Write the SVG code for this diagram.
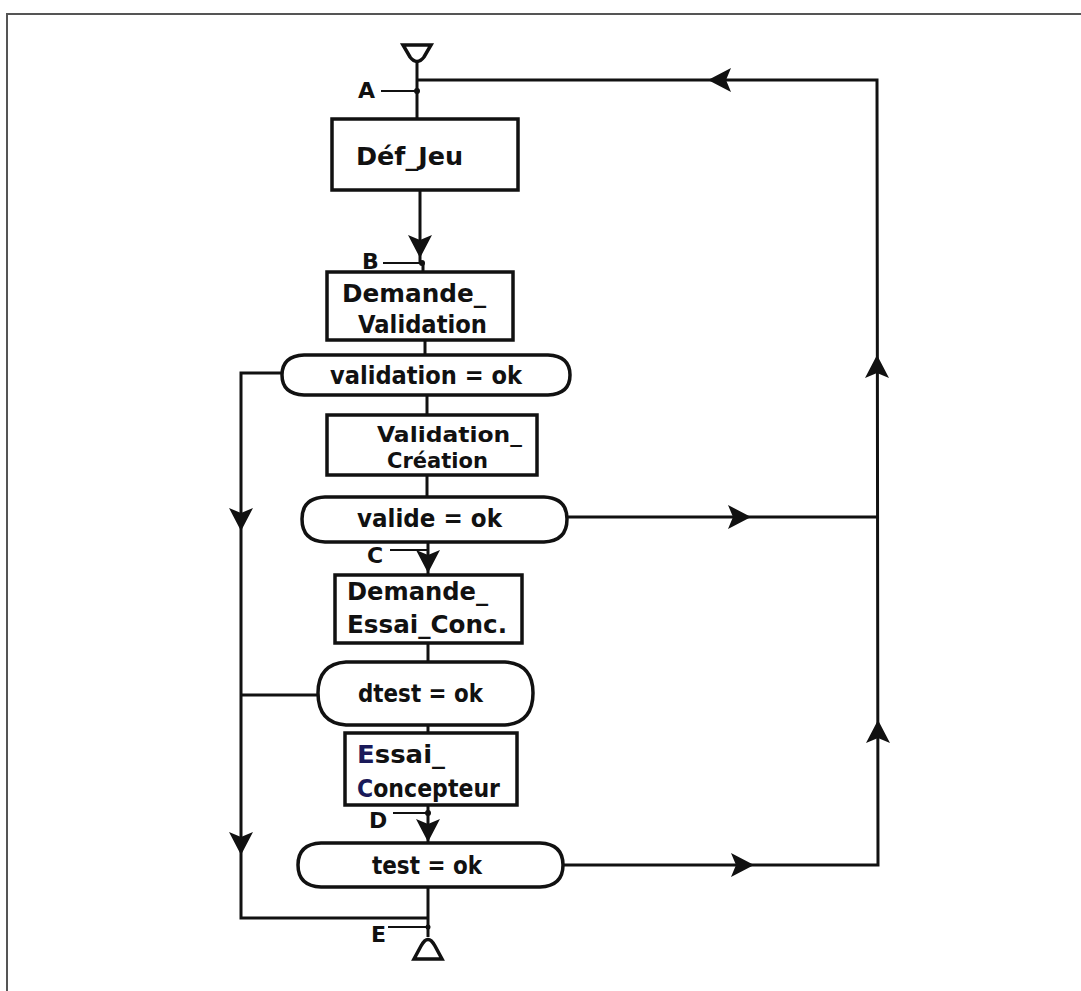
<svg xmlns="http://www.w3.org/2000/svg" xmlns:xlink="http://www.w3.org/1999/xlink" width="1081" height="991" viewBox="0 0 1081 991">
<style>
.shape{fill:#fff;stroke:#111;stroke-width:3.5}
.line{fill:none;stroke:#111;stroke-width:3}
.thin{fill:none;stroke:#111;stroke-width:2}
.t{font-family:"DejaVu Sans","Liberation Sans",sans-serif;font-weight:bold;font-size:24px;fill:#111}
.s{font-size:22px}
.lbl{font-family:"DejaVu Sans","Liberation Sans",sans-serif;font-weight:bold;font-size:22px;fill:#111}
.frame{fill:none;stroke:#555;stroke-width:2}
</style>
<defs>
<path id="arr" d="M0,0 L-23,-12 L-18,0 L-23,12 Z" fill="#111"/>
</defs>
<rect width="1081" height="991" fill="#fff"/>
<path class="frame" d="M7,991 V14 H1081"/>

<g id="connectors">
<line class="line" x1="417" y1="62" x2="417" y2="119"/>
<polyline class="line" points="417,80 877,80 878,865 563,865"/>
<line class="line" x1="567" y1="517" x2="877" y2="517"/>
<line class="line" x1="420" y1="190" x2="420" y2="263"/>
<line class="line" x1="423" y1="263" x2="423" y2="272"/>
<line class="line" x1="425" y1="340" x2="425" y2="355"/>
<line class="line" x1="427" y1="395" x2="427" y2="415"/>
<line class="line" x1="427" y1="475" x2="427" y2="497"/>
<line class="line" x1="428" y1="542" x2="428" y2="575"/>
<line class="line" x1="428" y1="643" x2="428" y2="662"/>
<line class="line" x1="428" y1="725" x2="428" y2="733"/>
<line class="line" x1="428" y1="805" x2="428" y2="843"/>
<line class="line" x1="428" y1="887" x2="428" y2="937"/>
<polyline class="line" points="282,373 241,373 241,918 428,918"/>
<line class="line" x1="241" y1="695" x2="318" y2="695"/>
<line class="thin" x1="381" y1="91" x2="417" y2="91"/>
<line class="thin" x1="383" y1="263" x2="423" y2="263"/>
<line class="thin" x1="390" y1="550" x2="428" y2="550"/>
<line class="thin" x1="393" y1="813" x2="428" y2="813"/>
<line class="thin" x1="388" y1="927" x2="428" y2="927"/>
<circle cx="417" cy="91" r="3" fill="#111"/>
<circle cx="422" cy="263" r="3" fill="#111"/>
<circle cx="428" cy="813" r="3" fill="#111"/>
<circle cx="428" cy="927" r="2.5" fill="#111"/>
<use xlink:href="#arr" transform="translate(708,80) rotate(180)"/>
<use xlink:href="#arr" transform="translate(420,258) rotate(90)"/>
<use xlink:href="#arr" transform="translate(877,355) rotate(-90)"/>
<use xlink:href="#arr" transform="translate(878,720) rotate(-90)"/>
<use xlink:href="#arr" transform="translate(751,517)"/>
<use xlink:href="#arr" transform="translate(754,865)"/>
<use xlink:href="#arr" transform="translate(241,531) rotate(90)"/>
<use xlink:href="#arr" transform="translate(241,855) rotate(90)"/>
<use xlink:href="#arr" transform="translate(428,573) rotate(90)"/>
<use xlink:href="#arr" transform="translate(428,842) rotate(90)"/>
<text class="lbl" x="358" y="98">A</text>
<text class="lbl" x="362" y="269">B</text>
<text class="lbl" x="367" y="563">C</text>
<text class="lbl" x="369" y="828">D</text>
<text class="lbl" x="371" y="942">E</text>
</g>

<g id="start">
<path class="shape" d="M403,45 H431 L424,57 Q417,66 410,57 Z"/>
</g>

<g id="def_jeu">
<rect class="shape" x="332" y="119" width="186" height="71"/>
<text class="t" x="356" y="165" textLength="107" lengthAdjust="spacingAndGlyphs">Déf_Jeu</text>
</g>

<g id="demande_validation">
<rect class="shape" x="327" y="272" width="186" height="68"/>
<text class="t" x="342" y="302" textLength="144" lengthAdjust="spacingAndGlyphs">Demande_</text>
<text class="t" x="358" y="333" textLength="129" lengthAdjust="spacingAndGlyphs">Validation</text>
</g>

<g id="dec_validation">
<path class="shape" d="M304,355 H548 Q570,356 570,375 Q570,394 548,395 H304 Q282,394 282,375 Q282,356 304,355 Z"/>
<text class="t" x="330" y="384" textLength="192" lengthAdjust="spacingAndGlyphs">validation = ok</text>
</g>

<g id="validation_creation">
<rect class="shape" x="327" y="415" width="210" height="60"/>
<text class="t s" x="377" y="442" textLength="145" lengthAdjust="spacingAndGlyphs">Validation_</text>
<text class="t s" x="387" y="468" textLength="101" lengthAdjust="spacingAndGlyphs">Création</text>
</g>

<g id="dec_valide">
<path class="shape" d="M325,497 H544 Q567,498 567,519 Q567,541 544,542 H325 Q302,541 302,519 Q302,498 325,497 Z"/>
<text class="t" x="357" y="527" textLength="145" lengthAdjust="spacingAndGlyphs">valide = ok</text>
</g>

<g id="demande_essai">
<rect class="shape" x="335" y="575" width="187" height="68"/>
<text class="t" x="347" y="600" textLength="141" lengthAdjust="spacingAndGlyphs">Demande_</text>
<text class="t" x="347" y="633" textLength="160" lengthAdjust="spacingAndGlyphs">Essai_Conc.</text>
</g>

<g id="dec_dtest">
<path class="shape" d="M346,662 H505 Q533,664 533,693 Q533,723 505,725 H346 Q318,723 318,693 Q318,664 346,662 Z"/>
<text class="t" x="358" y="702" textLength="125" lengthAdjust="spacingAndGlyphs">dtest = ok</text>
</g>

<g id="essai_concepteur">
<rect class="shape" x="345" y="733" width="172" height="72"/>
<text class="t" x="357" y="763" textLength="88" lengthAdjust="spacingAndGlyphs"><tspan fill="#1a1a5a">E</tspan>ssai_</text>
<text class="t" x="357" y="797" textLength="143" lengthAdjust="spacingAndGlyphs"><tspan fill="#1a1a5a">C</tspan>oncepteur</text>
</g>

<g id="dec_test">
<path class="shape" d="M321,843 H540 Q563,844 563,865 Q563,886 540,887 H321 Q298,886 298,865 Q298,844 321,843 Z"/>
<text class="t" x="372" y="874" textLength="110" lengthAdjust="spacingAndGlyphs">test = ok</text>
</g>

<g id="end">
<path class="shape" d="M414,959 H442 L435,946 Q428,933 421,946 Z"/>
</g>
</svg>
